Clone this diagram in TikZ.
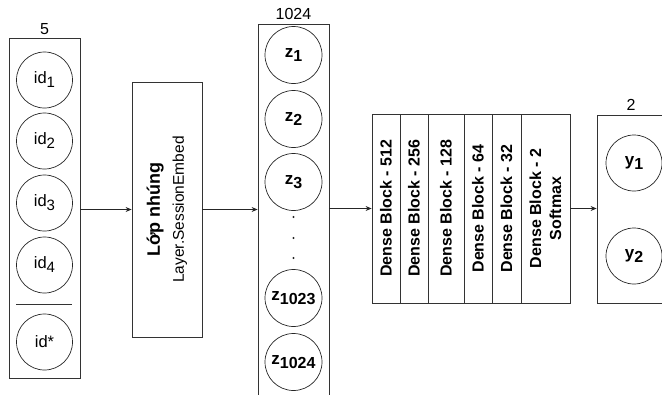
\documentclass[tikz,border=0pt]{standalone}
\usepackage{fontspec}
\setmainfont{Liberation Sans}
\usetikzlibrary{positioning, arrows.meta}

\newcommand{\lowsub}[2][13]{\raisebox{-4pt}{\fontsize{#1}{#1}\selectfont #2}}

\begin{document}
\begin{tikzpicture}[
  x=1pt, y=-1pt,
  layerbox/.style={draw=black!80, line width=0.8pt, inner sep=0pt},
  unit/.style={draw=black!85, circle, minimum size=56pt, inner sep=0pt, line width=0.7pt, font=\fontsize{16.5}{18}\selectfont},
  zunit/.style={unit, minimum size=57pt, font=\fontsize{17}{20}\selectfont\bfseries},
  dense/.style={draw=black!80, line width=0.8pt, rotate=90, minimum width=189pt, inner sep=0pt, align=center, font=\fontsize{16}{20}\selectfont\bfseries},
  count/.style={font=\fontsize{16}{18}\selectfont},
  arrow/.style={-{Stealth[length=6pt, width=5pt]}, line width=0.7pt, draw=black!85},
]
  \useasboundingbox (0,0) rectangle (662,394);

  % Input layer
  \node[layerbox, minimum width=71pt, minimum height=340pt] (inbox) at (44.5,208) {};
  \node[count] (incount) at (44.5,29) {5};
  \node[unit] (id1) at (44.5,80) {id\lowsub[15]{1}};
  \node[unit] (id2) at (44.5,141) {id\lowsub[15]{2}};
  \node[unit] (id3) at (44.5,203) {id\lowsub[15]{3}};
  \node[unit] (id4) at (44.5,265) {id\lowsub[15]{4}};
  \draw[line width=1pt, black!80] (16,304) -- (72,304);
  \node[unit] (idstar) at (44.5,342) {id*};

  % Embedding layer
  \node[layerbox, rotate=90, minimum width=255pt, minimum height=70pt, align=center,
        font=\fontsize{15.5}{24}\selectfont] (embed) at (167,209.5)
        {{\fontsize{18}{24}\selectfont\bfseries Lớp nhúng}\\Layer.SessionEmbed};

  % Latent vector
  \node[layerbox, minimum width=71pt, minimum height=380pt] (zbox) at (293.5,214) {};
  \node[count] (zcount) at (293.5,14) {1024};
  \node[zunit] (z1) at (293.5,55) {z\lowsub[16]{1}};
  \node[zunit] (z2) at (293.5,119) {z\lowsub[16]{2}};
  \node[zunit] (z3) at (293.5,182) {z\lowsub[16]{3}};
  \foreach \y in {217,238,258}
    \fill[black!85] (293.5,\y) circle (1.1);
  \node[zunit] (z1023) at (293.5,298) {z\lowsub[16]{1023}};
  \node[zunit] (z1024) at (293.5,362) {z\lowsub[16]{1024}};

  % Dense blocks
  \node[dense, minimum height=28pt] (d1) at (386,208.5) {Dense Block - 512};
  \node[dense, minimum height=28pt] (d2) at (414,208.5) {Dense Block - 256};
  \node[dense, minimum height=36pt] (d3) at (446,208.5) {Dense Block - 128};
  \node[dense, minimum height=28pt] (d4) at (478,208.5) {Dense Block - 64};
  \node[dense, minimum height=29pt] (d5) at (506.5,208.5) {Dense Block - 32};
  \node[dense, minimum height=49pt] (d6) at (545.5,208.5) {Dense Block - 2\\Softmax};

  % Output layer
  \node[layerbox, minimum width=72pt, minimum height=188pt] (outbox) at (633,209) {};
  \node[count] (outcount) at (631,105) {2};
  \node[zunit, minimum size=56pt] (y1) at (634,163) {y\lowsub[16]{1}};
  \node[zunit, minimum size=56pt] (y2) at (634,256) {y\lowsub[16]{2}};

  % Connections
  \draw[arrow] (inbox.east |- embed.north) -- (embed.north);
  \draw[arrow] (embed.south) -- (zbox.west |- embed.south);
  \draw[arrow] (zbox.east |- d1.north) -- (d1.north);
  \draw[arrow] (d6.south) -- (outbox.west |- d6.south);

\end{tikzpicture}
\end{document}
